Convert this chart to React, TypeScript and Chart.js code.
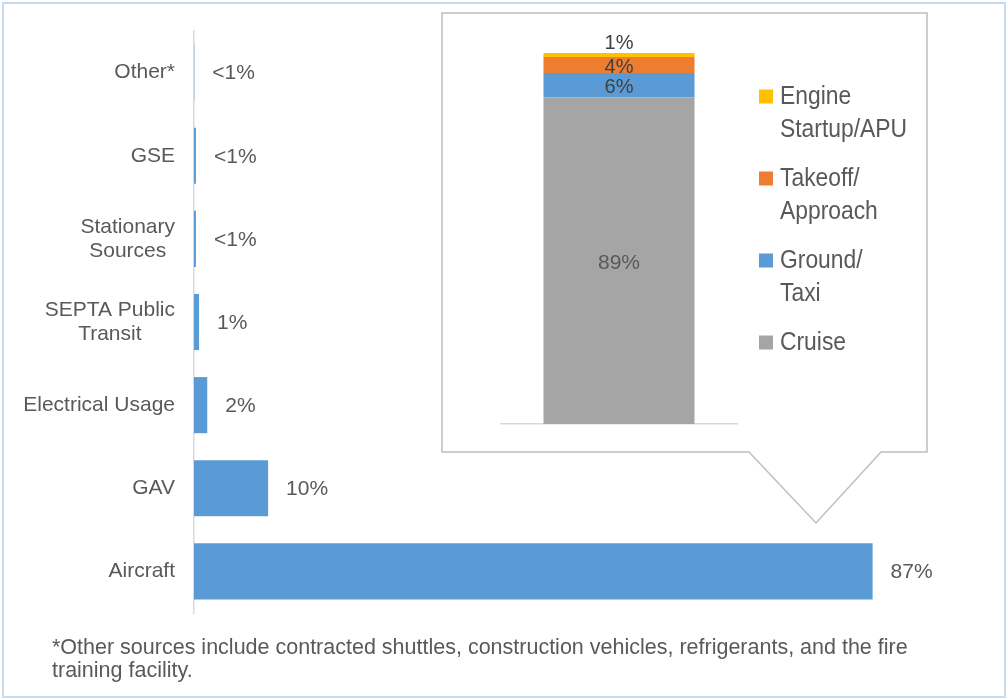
import React, { useEffect, useRef } from "react";
import { Chart, registerables } from "chart.js";

Chart.register(...registerables);

// ---- Data ----
const categories: string[][] = [
  ["Other*"],
  ["GSE"],
  ["Stationary", "Sources"],
  ["SEPTA Public", "Transit"],
  ["Electrical Usage"],
  ["GAV"],
  ["Aircraft"],
];
const shares = [0.04, 0.25, 0.25, 0.65, 1.7, 9.5, 87];
const shareLabels = ["<1%", "<1%", "<1%", "1%", "2%", "10%", "87%"];

// stacked inset (bottom to top)
const phaseNames: string[][] = [
  ["Cruise"],
  ["Ground/", "Taxi"],
  ["Takeoff/", "Approach"],
  ["Engine", "Startup/APU"],
];
const phaseValues = [88, 6.6, 4.3, 1.1];
const phaseLabels = ["89%", "6%", "4%", "1%"];
const phaseColors = ["#a5a5a5", "#5b9bd5", "#ed7d31", "#ffc000"];

const footnote = [
  "*Other sources include contracted shuttles, construction vehicles, refrigerants, and the fire",
  "training facility.",
];

const FONT = '"Liberation Sans", Arial, sans-serif';
const TEXT = "#595959";

export default function App() {
  const mainRef = useRef<HTMLCanvasElement | null>(null);
  const insetRef = useRef<HTMLCanvasElement | null>(null);

  useEffect(() => {
    document.body.style.margin = "0";

    const mainDecor = {
      id: "mainDecor",
      afterDraw(chart: any) {
        const ctx = chart.ctx as CanvasRenderingContext2D;
        const { chartArea } = chart;
        const yS = chart.scales.y;
        const xS = chart.scales.x;
        ctx.save();
        // category labels
        ctx.font = `21px ${FONT}`;
        ctx.fillStyle = TEXT;
        ctx.textBaseline = "middle";
        ctx.textAlign = "center";
        const rightEdge = chartArea.left - 19;
        categories.forEach((lines, i) => {
          const y = yS.getPixelForValue(i);
          const maxW = Math.max(...lines.map((l) => ctx.measureText(l).width));
          const cx = rightEdge - maxW / 2;
          lines.forEach((l, j) => {
            ctx.fillText(l, cx, y + (j - (lines.length - 1) / 2) * 24);
          });
        });
        // value labels
        ctx.textAlign = "left";
        shares.forEach((v, i) => {
          const x = xS.getPixelForValue(v) + 18;
          const y = yS.getPixelForValue(i) + 1;
          ctx.fillText(shareLabels[i], x, y);
        });
        // callout box
        ctx.strokeStyle = "#bfbfbf";
        ctx.lineWidth = 1.5;
        ctx.beginPath();
        ctx.moveTo(442, 13);
        ctx.lineTo(927, 13);
        ctx.lineTo(927, 452);
        ctx.lineTo(881, 452);
        ctx.lineTo(816, 523);
        ctx.lineTo(749, 452);
        ctx.lineTo(442, 452);
        ctx.closePath();
        ctx.stroke();
        // footnote
        ctx.font = `21.5px ${FONT}`;
        ctx.fillStyle = TEXT;
        ctx.textAlign = "left";
        footnote.forEach((l, j) => ctx.fillText(l, 52, 648 + j * 23));
        // outer border
        ctx.strokeStyle = "#c9dcef";
        ctx.lineWidth = 2;
        ctx.strokeRect(3, 3, 1002, 694);
        ctx.restore();
      },
    };

    const insetDecor = {
      id: "insetDecor",
      afterDraw(chart: any) {
        const ctx = chart.ctx as CanvasRenderingContext2D;
        const { chartArea } = chart;
        ctx.save();
        ctx.textBaseline = "middle";
        ctx.textAlign = "center";
        const n = phaseValues.length;
        for (let i = 0; i < n; i++) {
          const bar: any = chart.getDatasetMeta(i).data[0];
          let y: number;
          if (i === n - 1) y = bar.y - 10;
          else y = (bar.y + bar.base) / 2 + 2;
          ctx.font = i === 0 ? `21px ${FONT}` : `20px ${FONT}`;
          ctx.fillStyle = i === 0 ? TEXT : "#404040";
          ctx.fillText(phaseLabels[i], bar.x, y);
        }
        // legend (top to bottom = reversed)
        const sqX = chartArea.right + 22;
        const txX = chartArea.right + 43;
        let y = chartArea.top + 43.5;
        ctx.textAlign = "left";
        ctx.font = `25px ${FONT}`;
        for (let k = n - 1; k >= 0; k--) {
          ctx.fillStyle = phaseColors[k];
          ctx.fillRect(sqX, y - 7, 14, 14);
          ctx.fillStyle = TEXT;
          phaseNames[k].forEach((l, j) => {
            ctx.save();
            ctx.translate(txX, y + j * 33 + 1);
            ctx.scale(0.914, 1);
            ctx.fillText(l, 0, 0);
            ctx.restore();
          });
          y += phaseNames[k].length * 33 + 16;
        }
        ctx.restore();
      },
    };

    const main = new Chart(mainRef.current as HTMLCanvasElement, {
      type: "bar",
      data: {
        labels: categories as any,
        datasets: [
          {
            data: shares,
            backgroundColor: "#5b9bd5",
            barPercentage: 0.675,
            categoryPercentage: 1,
          },
        ],
      },
      options: {
        indexAxis: "y",
        responsive: false,
        animation: false,
        layout: { padding: { left: 194, right: 34, top: 31, bottom: 87 } },
        plugins: { legend: { display: false }, tooltip: { enabled: false } },
        scales: {
          x: { display: false, min: 0, max: 100 },
          y: {
            grid: { display: false, drawTicks: false },
            ticks: { display: false },
            border: { color: "#d9d9d9", width: 1.5 },
            afterFit: (s: any) => {
              s.width = 0;
            },
          },
        },
      } as any,
      plugins: [mainDecor],
    });

    const inset = new Chart(insetRef.current as HTMLCanvasElement, {
      type: "bar",
      data: {
        labels: [""],
        datasets: phaseNames.map((nm, i) => ({
          label: nm.join(" "),
          data: [phaseValues[i]],
          backgroundColor: phaseColors[i],
          barPercentage: 0.64,
          categoryPercentage: 1,
        })),
      },
      options: {
        responsive: false,
        animation: false,
        layout: { padding: { left: 58, right: 189, top: 39, bottom: 27 } },
        plugins: { legend: { display: false }, tooltip: { enabled: false } },
        scales: {
          x: {
            stacked: true,
            grid: { display: false, drawTicks: false },
            ticks: { display: false },
            border: { color: "#d9d9d9", width: 1.5 },
            afterFit: (s: any) => {
              s.height = 0;
            },
          },
          y: { stacked: true, display: false, min: 0, max: 100 },
        },
      } as any,
      plugins: [insetDecor],
    });

    return () => {
      main.destroy();
      inset.destroy();
    };
  }, []);

  return (
    <div style={{ position: "relative", width: 1008, height: 700, background: "#fff" }}>
      <canvas ref={mainRef} width={1008} height={700} style={{ position: "absolute", left: 0, top: 0 }} />
      <canvas
        ref={insetRef}
        width={483}
        height={437}
        style={{ position: "absolute", left: 443, top: 14 }}
      />
    </div>
  );
}
